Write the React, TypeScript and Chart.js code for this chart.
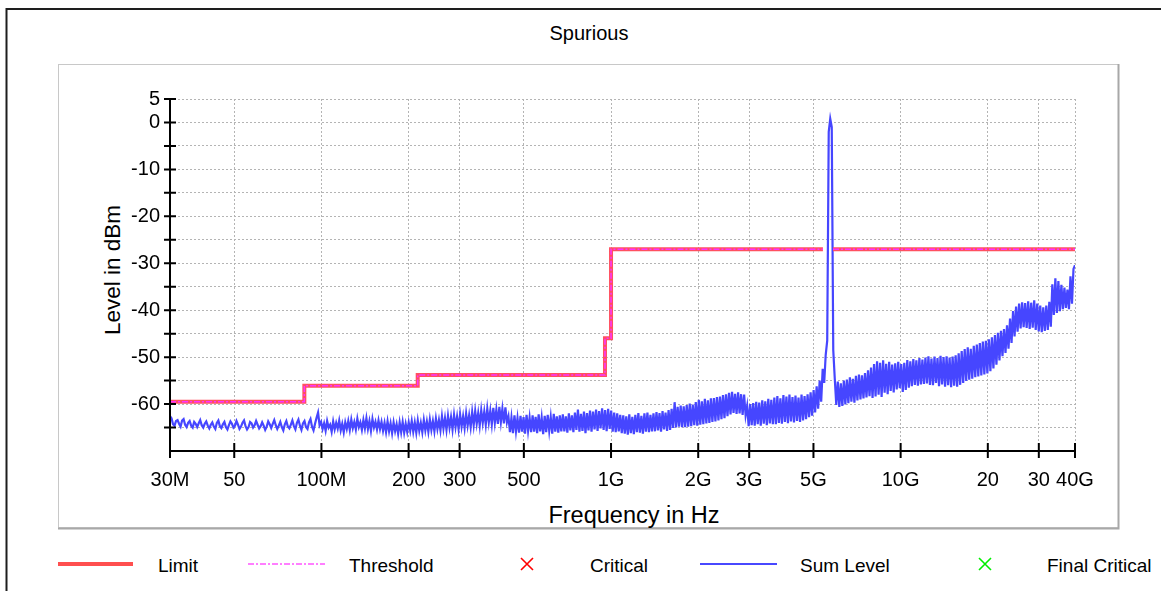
import React, { useEffect, useRef } from 'react';
import Chart from 'chart.js/auto';

const FONT = "'Liberation Sans', Arial, sans-serif";

// x axis ticks (Hz) and their printed labels
const xTickValues = [30e6, 50e6, 100e6, 200e6, 300e6, 500e6, 1e9, 2e9, 3e9, 5e9, 10e9, 20e9, 30e9, 40e9];
const xTickLabels = ['30M', '50', '100M', '200', '300', '500', '1G', '2G', '3G', '5G', '10G', '20', '30', '40G'];

// limit line, one entry per flat segment
const limitStartHz = [30e6, 87.3e6, 215e6, 953e6, 1.0e9, 5.84e9];
const limitStopHz = [87.3e6, 215e6, 953e6, 1.0e9, 5.39e9, 40e9];
const limitLevels = [-59.5, -56.1, -53.8, -46.0, -27.0, -27.0];

// sweep 30 MHz .. 40 GHz, log spaced points
const sweepStartHz = 30e6;
const sweepStopHz = 40e9;
const sumLevel = [
  -62.6, -63.0, -64.3, -64.6, -63.6, -63.4, -64.2, -64.8, -63.5, -63.2, -64.4, -64.9, -64.0, -63.6, -64.6, -65.0, -63.8, -64.2, -64.9, -64.1,
  -63.4, -64.5, -65.0, -64.2, -63.7, -64.6, -65.2, -64.4, -63.9, -64.8, -65.3, -64.0, -63.5, -64.7, -65.1, -64.3, -63.8, -64.9, -65.4, -64.5,
  -63.7, -64.2, -65.0, -64.6, -63.6, -64.4, -65.3, -64.8, -64.0, -63.5, -64.7, -65.4, -64.9, -63.8, -64.1, -65.0, -64.5, -63.6, -64.4, -65.2,
  -64.7, -63.9, -64.6, -65.5, -64.8, -63.7, -64.3, -65.1, -64.2, -63.4, -64.5, -65.3, -64.6, -63.8, -64.9, -65.6, -64.3, -63.6, -64.8, -65.2,
  -64.4, -63.5, -64.7, -65.4, -64.0, -63.3, -64.6, -65.5, -64.1, -63.6, -64.9, -65.3, -63.9, -63.2, -64.8, -65.6, -64.2, -62.9, -61.8, -64.5,
  -63.8, -65.3, -64.1, -65.7, -63.6, -65.0, -64.4, -65.9, -63.7, -65.4, -64.0, -65.2, -63.5, -65.6, -64.2, -66.0, -63.9, -65.3, -63.6, -65.5,
  -63.3, -65.1, -63.8, -65.4, -63.1, -64.9, -63.9, -65.5, -63.4, -65.2, -63.0, -65.3, -63.6, -65.7, -63.2, -65.0, -63.8, -65.4, -63.5, -65.3,
  -63.8, -65.7, -64.0, -66.0, -63.7, -65.8, -64.1, -66.2, -63.9, -65.8, -64.3, -66.3, -63.9, -66.0, -63.8, -66.1, -64.2, -65.9, -63.9, -65.7,
  -63.6, -65.9, -63.9, -66.1, -63.5, -65.7, -64.0, -66.0, -63.4, -65.6, -63.7, -65.9, -63.3, -65.5, -63.6, -65.8, -63.1, -65.3, -63.4, -65.6,
  -62.6, -65.2, -63.0, -65.5, -62.5, -65.0, -62.8, -65.4, -62.3, -64.9, -62.7, -65.3, -62.2, -64.8, -62.6, -65.1, -62.0, -64.6, -62.4, -64.9,
  -61.7, -64.5, -61.5, -64.2, -61.9, -64.6, -61.3, -64.0, -61.6, -64.4, -61.0, -63.9, -61.4, -64.3, -60.8, -64.0, -61.2, -64.2, -60.6, -63.8,
  -61.0, -64.1, -60.7, -63.9, -62.6, -66.0, -62.9, -66.2, -62.4, -65.8, -63.0, -66.1, -62.5, -65.9, -62.8, -66.3, -62.3, -65.7, -62.9, -66.0,
  -62.4, -65.9, -62.7, -66.2, -62.2, -65.8, -62.9, -66.4, -62.5, -66.0, -62.3, -65.7, -62.8, -66.3, -62.1, -65.9, -62.6, -66.1, -62.4, -65.8,
  -62.2, -65.8, -62.6, -66.1, -62.0, -65.6, -62.4, -66.0, -61.8, -65.5, -61.2, -65.9, -62.1, -65.7, -61.6, -66.2, -61.9, -65.6, -61.4, -65.9,
  -61.6, -65.4, -61.2, -65.7, -61.5, -65.2, -60.9, -65.5, -61.3, -65.8, -61.0, -65.3, -61.4, -65.9, -61.8, -66.0, -62.0, -65.8, -62.3, -66.2,
  -62.4, -66.3, -62.6, -66.5, -62.2, -66.2, -62.7, -66.4, -62.3, -66.0, -61.9, -66.1, -62.5, -66.3, -62.0, -65.9, -61.8, -66.0, -62.3, -65.8,
  -62.0, -65.8, -61.7, -65.6, -61.9, -65.9, -61.5, -65.4, -61.8, -65.7, -61.3, -65.5, -61.0, -65.1, -59.6, -65.0, -60.6, -64.8, -60.3, -64.9,
  -60.5, -64.9, -60.2, -64.8, -59.9, -64.7, -60.1, -64.5, -59.6, -64.6, -59.1, -64.4, -59.4, -64.3, -58.9, -64.1, -59.2, -64.0, -58.8, -63.8,
  -58.7, -63.7, -58.5, -63.5, -58.4, -63.2, -58.1, -63.0, -57.9, -62.6, -57.6, -62.2, -57.4, -61.9, -57.8, -62.1, -57.5, -62.0, -57.9, -62.3,
  -58.0, -62.4, -60.4, -64.7, -60.0, -64.5, -59.8, -64.6, -59.5, -64.3, -59.7, -64.6, -59.2, -64.2, -59.4, -64.5, -58.9, -64.1, -59.1, -64.3,
  -58.6, -64.3, -58.3, -64.0, -58.8, -64.2, -58.1, -63.8, -58.4, -64.1, -58.0, -63.7, -58.5, -63.9, -58.2, -63.6, -58.6, -63.8, -58.0, -63.5,
  -58.3, -63.2, -57.9, -62.8, -57.5, -62.5, -57.0, -61.8, -56.2, -61.0, -55.0, -59.5, -52.5, -55.5, -49.5, -46.5, -2.0, 0.8, -1.0, -48.5,
  -54.6, -60.2, -55.2, -60.6, -55.6, -60.4, -55.0, -60.1, -54.8, -59.8, -54.3, -59.5, -54.6, -59.7, -54.0, -59.2, -53.7, -59.0, -53.9, -58.8,
  -53.4, -58.6, -52.8, -58.3, -52.2, -58.7, -51.5, -58.4, -50.9, -58.0, -51.2, -58.5, -50.7, -57.6, -51.4, -57.9, -51.0, -57.2, -51.6, -57.5,
  -51.3, -56.9, -51.0, -56.6, -51.5, -57.4, -51.2, -57.0, -50.6, -56.5, -50.9, -56.2, -50.4, -55.9, -50.7, -56.1, -50.2, -55.8, -50.5, -55.7,
  -50.1, -55.6, -49.8, -55.9, -50.3, -56.0, -49.9, -55.5, -50.2, -56.2, -49.7, -55.8, -50.0, -56.3, -49.8, -56.0, -50.1, -56.4, -49.9, -56.1,
  -49.6, -56.3, -49.2, -55.9, -48.7, -55.5, -48.3, -55.1, -47.9, -54.8, -48.2, -54.6, -47.6, -54.3, -47.3, -54.1, -47.0, -53.9, -46.7, -53.7,
  -46.5, -53.5, -46.2, -53.0, -45.8, -52.4, -45.3, -51.6, -44.8, -50.7, -44.4, -49.8, -44.0, -49.1, -43.2, -48.2, -41.8, -47.0, -40.2, -45.6,
  -39.2, -44.6, -38.6, -43.9, -38.3, -43.6, -38.5, -43.8, -38.1, -44.0, -38.4, -43.7, -37.9, -44.2, -38.6, -44.5, -39.0, -44.7, -39.4, -44.4,
  -39.0, -44.2, -38.2, -43.5, -34.5, -41.0, -33.2, -40.6, -33.8, -40.2, -34.6, -39.8, -35.2, -39.5, -35.6, -39.8, -32.8, -38.6, -31.2, -30.4,
];

const buildLimitPoints = () => {
  const pts: { x: number; y: number | null }[] = [];
  limitLevels.forEach((level, i) => {
    pts.push({ x: limitStartHz[i], y: level });
    pts.push({ x: limitStopHz[i], y: level });
    const next = limitStartHz[i + 1];
    if (next !== undefined && next !== limitStopHz[i]) {
      pts.push({ x: (limitStopHz[i] + next) / 2, y: null });
    }
  });
  return pts;
};

const buildSweepPoints = () => {
  const n = sumLevel.length;
  const ratio = sweepStopHz / sweepStartHz;
  return sumLevel.map((y, i) => ({ x: sweepStartHz * Math.pow(ratio, i / (n - 1)), y }));
};

// black axes with tick marks that cross the axis line
const axesPlugin = {
  id: 'axesPlugin',
  afterDatasetsDraw(chart: any) {
    const { ctx, chartArea, scales } = chart;
    const { left, right, top, bottom } = chartArea;
    ctx.save();
    ctx.strokeStyle = '#000';
    ctx.lineWidth = 2;
    ctx.beginPath();
    ctx.moveTo(left, top);
    ctx.lineTo(left, bottom);
    ctx.moveTo(left - 1, bottom);
    ctx.lineTo(right + 1, bottom);
    scales.y.ticks.forEach((t: any) => {
      if (t.value === scales.y.min) return;
      const py = scales.y.getPixelForValue(t.value);
      ctx.moveTo(left - 6, py);
      ctx.lineTo(left + 6, py);
    });
    scales.x.ticks.forEach((t: any) => {
      const px = scales.x.getPixelForValue(t.value);
      ctx.moveTo(px, bottom - 8);
      ctx.lineTo(px, bottom + 7);
    });
    ctx.stroke();
    ctx.restore();
  },
};

const SpuriousChart: React.FC = () => {
  const chartRef = useRef<HTMLCanvasElement>(null);
  const chartInstance = useRef<Chart | null>(null);

  useEffect(() => {
    if (chartRef && chartRef.current) {
      if (chartInstance.current) {
        chartInstance.current.destroy();
      }
      const limitPoints = buildLimitPoints();
      const chart = new Chart(chartRef.current, {
        type: 'line',
        data: {
          datasets: [
            {
              label: 'Limit',
              data: limitPoints,
              borderColor: '#ff5060',
              borderWidth: 4,
              pointRadius: 0,
              order: 1,
            },
            {
              label: 'Threshold',
              data: limitPoints,
              borderColor: '#ff33ff',
              borderWidth: 1.5,
              borderDash: [6, 2, 2, 2],
              pointRadius: 0,
              order: 0,
            },
            {
              label: 'Critical',
              data: [],
              borderColor: '#ff0000',
              showLine: false,
              pointStyle: 'crossRot',
              order: 3,
            },
            {
              label: 'Sum Level',
              data: buildSweepPoints(),
              borderColor: '#4646ff',
              borderWidth: 2.2,
              pointRadius: 0,
              order: 2,
            },
            {
              label: 'Final Critical',
              data: [],
              borderColor: '#00ee00',
              showLine: false,
              pointStyle: 'crossRot',
              order: 4,
            },
          ],
        },
        options: {
          responsive: false,
          animation: false,
          layout: { padding: { left: 90, top: 99, right: 86, bottom: 61 } },
          plugins: {
            legend: { display: false },
            title: { display: false },
            tooltip: { enabled: false },
          },
          scales: {
            x: {
              type: 'logarithmic',
              min: sweepStartHz,
              max: sweepStopHz,
              afterBuildTicks: (scale: any) => {
                scale.ticks = xTickValues.map((value) => ({ value }));
              },
              afterFit: (scale: any) => {
                scale.height = 79;
              },
              ticks: {
                autoSkip: false,
                maxRotation: 0,
                padding: 17,
                color: '#000',
                font: { family: FONT, size: 20 },
                callback: (_v: any, i: number) => xTickLabels[i],
              },
              grid: { color: '#b4b4b4', lineWidth: 1, drawTicks: false },
              border: { display: false, dash: [2, 2] },
            },
            y: {
              type: 'linear',
              min: -70,
              max: 5,
              afterFit: (scale: any) => {
                scale.width = 80;
              },
              ticks: {
                stepSize: 5,
                autoSkip: false,
                padding: 10,
                color: '#000',
                font: { family: FONT, size: 20 },
                callback: (v: any) => {
                  const n = Math.round(Number(v));
                  return n === 5 || (n % 10 === 0 && n > -70) ? String(n) : '';
                },
              },
              grid: { color: '#b4b4b4', lineWidth: 1, drawTicks: false },
              border: { display: false, dash: [2, 2] },
            },
          },
        },
        plugins: [axesPlugin],
      });
      chartInstance.current = chart;
    }

    return () => {
      if (chartInstance.current) {
        chartInstance.current.destroy();
        chartInstance.current = null;
      }
    };
  }, []);

  return (
    <canvas
      ref={chartRef}
      width={1161}
      height={591}
      style={{ position: 'absolute', left: 0, top: 0, width: 1161, height: 591 }}
    />
  );
};

const legendText = { fontFamily: FONT, fontSize: 19, fill: '#000' };

const App: React.FC = () => {
  return (
    <div style={{ position: 'absolute', left: 0, top: 0, width: 1161, height: 591, overflow: 'hidden', background: '#fff' }}>
      <svg width={1161} height={591} style={{ position: 'absolute', left: 0, top: 0 }}>
        <path d="M6.5 600 V9 H1170" fill="none" stroke="#1e1e1e" strokeWidth={2} />
        <rect x={58.5} y={64.5} width={1060} height={463} fill="#fff" stroke="#c8c8c8" strokeWidth={1} />
        <path d="M1118.5 64 V528.5 H58" fill="none" stroke="#a8a8a8" strokeWidth={2} />
        <text x={589} y={33} textAnchor="middle" dominantBaseline="central" style={{ fontFamily: FONT, fontSize: 20, fill: '#000' }}>
          Spurious
        </text>
        <text
          transform="translate(112,270) rotate(-90)"
          textAnchor="middle"
          dominantBaseline="central"
          style={{ fontFamily: FONT, fontSize: 22.5, fill: '#000' }}
        >
          Level in dBm
        </text>
        <text x={634} y={515} textAnchor="middle" dominantBaseline="central" style={{ fontFamily: FONT, fontSize: 23.5, fill: '#000' }}>
          Frequency in Hz
        </text>

        {/* legend */}
        <line x1={58} y1={564} x2={133} y2={564} stroke="#ff4f4f" strokeWidth={4} />
        <text x={158} y={565} dominantBaseline="central" style={legendText}>Limit</text>
        <line x1={248} y1={564} x2={325} y2={564} stroke="#ff55ff" strokeWidth={1.5} strokeDasharray="6 2 2 2" />
        <text x={349} y={565} dominantBaseline="central" style={legendText}>Threshold</text>
        <path d="M521 558 L533 570 M533 558 L521 570" stroke="#ff0000" strokeWidth={1.6} />
        <text x={590} y={565} dominantBaseline="central" style={legendText}>Critical</text>
        <line x1={700} y1={564} x2={777} y2={564} stroke="#4848ff" strokeWidth={2} />
        <text x={800} y={565} dominantBaseline="central" style={legendText}>Sum Level</text>
        <path d="M979 558 L991 570 M991 558 L979 570" stroke="#00ee00" strokeWidth={1.6} />
        <text x={1047} y={565} dominantBaseline="central" style={legendText}>Final Critical</text>
      </svg>
      <SpuriousChart />
    </div>
  );
};

export default App;
